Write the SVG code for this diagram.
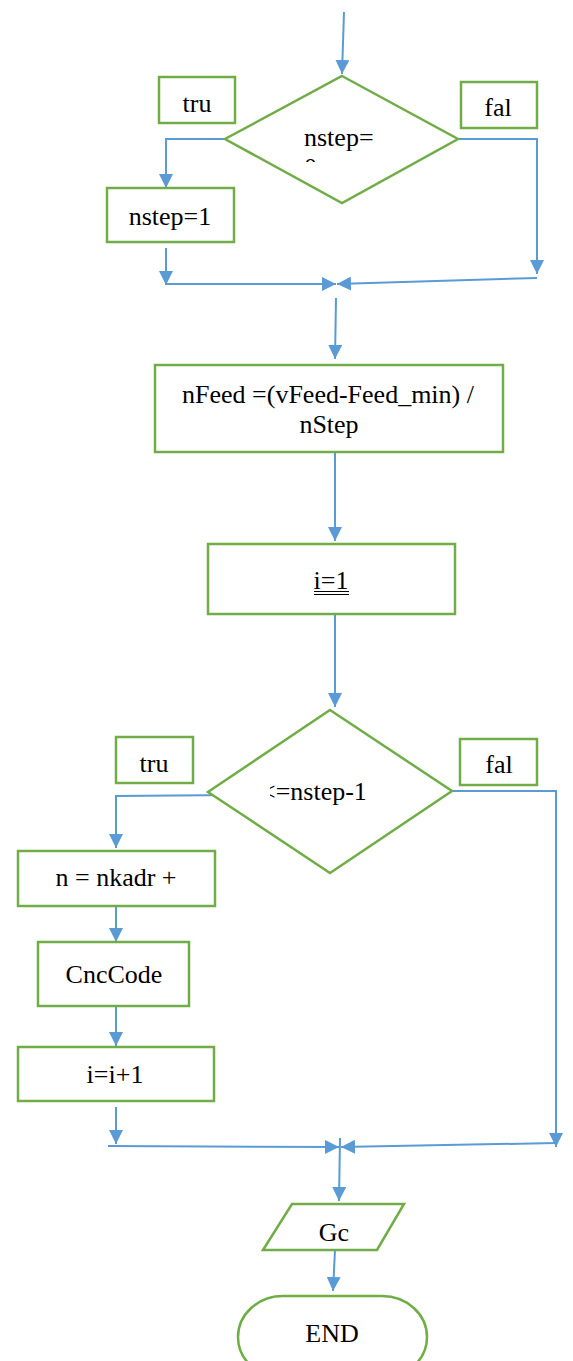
<svg xmlns="http://www.w3.org/2000/svg" width="573" height="1361" viewBox="0 0 573 1361">
<style>
.n{fill:#fff;stroke:#70AD47;stroke-width:2.5}
.c{fill:none;stroke:#5B9BD5;stroke-width:2}
.a{marker-end:url(#ar)}
text{font-family:'Liberation Serif','DejaVu Serif',serif;font-size:26px;fill:#000;text-anchor:middle}
</style>
<defs>
<marker id="ar" viewBox="0 0 14 14" refX="14" refY="7" markerWidth="14" markerHeight="14" markerUnits="userSpaceOnUse" orient="auto">
<path d="M0,0 L14,7 L0,14 z" fill="#5B9BD5"/>
</marker>
<clipPath id="clip1"><rect x="280" y="110" width="120" height="52"/></clipPath>
<clipPath id="clip2"><rect x="270" y="770" width="120" height="40"/></clipPath>
</defs>
<g id="connectors">
<path class="c a" d="M344,12 L342,74"/>
<path class="c a" d="M225,139 L166,139 L166,188"/>
<path class="c a" d="M458,139 L537,139 L537,274"/>
<path class="c a" d="M166,248 L166,285"/>
<path class="c a" d="M166,284 L336,284"/>
<path class="c a" d="M537,278 L337,284"/>
<path class="c a" d="M336,298 L335,359"/>
<path class="c a" d="M335,452 L335,541"/>
<path class="c a" d="M335,614 L335,707"/>
<path class="c a" d="M235,795 L116,796 L116,848"/>
<path class="c a" d="M452,791 L556,791 L556,1147"/>
<path class="c a" d="M116,906 L116,942"/>
<path class="c a" d="M116,1007 L116,1046"/>
<path class="c a" d="M116,1107 L116,1144"/>
<path class="c a" d="M108,1146 L339,1147"/>
<path class="c a" d="M556,1143 L341,1147"/>
<path class="c a" d="M340,1138 L339,1201"/>
<path class="c a" d="M335,1250 L333,1291"/>
</g>
<g id="dec1">
<polygon class="n" points="342,76 458,139 342,203 225,139"/>
<text x="304" y="146" style="text-anchor:start" clip-path="url(#clip1)">nstep=<tspan x="304" y="176">0</tspan></text>
</g>
<g id="tru1"><rect class="n" x="159" y="77" width="76" height="46"/><text x="197" y="112">tru</text></g>
<g id="fal1"><rect class="n" x="461" y="82" width="76" height="46"/><text x="498" y="116">fal</text></g>
<g id="nstep1"><rect class="n" x="107" y="188" width="127" height="54"/><text x="170" y="225">nstep=1</text></g>
<g id="nfeed"><rect class="n" x="155" y="365" width="348" height="87"/><text x="328" y="403">nFeed =(vFeed-Feed_min) /</text><text x="329" y="433">nStep</text></g>
<g id="i1"><rect class="n" x="208" y="544" width="247" height="70"/><text x="331" y="589">i=1</text>
<path d="M314,591.5 H349 M314,594.5 H349" stroke="#000" stroke-width="1" fill="none"/></g>
<g id="dec2">
<polygon class="n" points="330,710 452,791 330,873 208,792"/>
<text x="261" y="800" style="text-anchor:start" clip-path="url(#clip2)">&lt;=nstep-1</text>
</g>
<g id="tru2"><rect class="n" x="116" y="737" width="77" height="46"/><text x="154" y="772">tru</text></g>
<g id="fal2"><rect class="n" x="460" y="739" width="77" height="46"/><text x="499" y="773">fal</text></g>
<g id="nkadr"><rect class="n" x="18" y="851" width="197" height="55"/><text x="116" y="886">n = nkadr +</text></g>
<g id="cnc"><rect class="n" x="38" y="942" width="151" height="64"/><text x="114" y="983">CncCode</text></g>
<g id="inc"><rect class="n" x="18" y="1047" width="196" height="54"/><text x="115" y="1083">i=i+1</text></g>
<g id="gc"><polygon class="n" points="263,1250 292,1204 404,1204 377,1250"/><text x="334" y="1241">Gc</text></g>
<g id="end"><rect class="n" x="238" y="1296" width="189" height="82" rx="45" ry="45"/><text x="332" y="1342">END</text></g>
</svg>
